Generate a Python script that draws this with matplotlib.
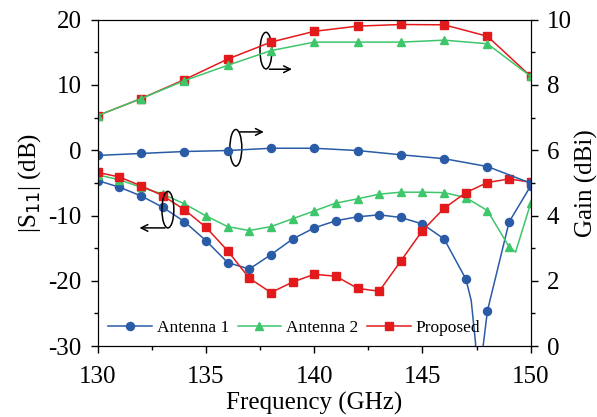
import numpy as np
import matplotlib.pyplot as plt
from matplotlib.patches import Ellipse, FancyArrowPatch
from matplotlib.ticker import MultipleLocator

plt.rcParams['font.family'] = ['Liberation Serif', 'DejaVu Serif']
plt.rcParams['axes.unicode_minus'] = False

# S11 data (left axis), markers every 1 GHz
freq = list(range(130, 151))
s11_ant1 = [-4.65, -5.66, -7.0, -8.73, -10.93, -13.85, -17.2, -18.2, -16.0, -13.6,
            -11.9, -10.8, -10.2, -9.9, -10.3, -11.3, -13.6, -19.7, -24.6, -11.0, -5.46]
s11_ant2 = [-3.77, -4.54, -5.66, -6.73, -8.2, -10.06, -11.7, -12.3, -11.7, -10.5,
            -9.3, -8.1, -7.45, -6.73, -6.43, -6.43, -6.5, -7.25, -9.25, -14.8, -8.1]
s11_prop = [-3.4, -4.1, -5.46, -6.95, -9.1, -11.8, -15.4, -19.6, -21.8, -20.2,
            -19.0, -19.3, -21.15, -21.6, -16.96, -12.3, -8.9, -6.5, -4.95, -4.4, -4.9]
# extra unmarked points read from the sharp nulls
ant1_null_f = [147.25, 147.45, 147.62, 147.8]
ant1_null_v = [-23.0, -29.5, -45.0, -30.0]
ant2_null_f = [149.3]
ant2_null_v = [-15.6]

# Gain data (right axis), markers every 2 GHz
gfreq = list(range(130, 151, 2))
gain_ant1 = [5.84, 5.9, 5.96, 5.99, 6.06, 6.06, 5.99, 5.86, 5.74, 5.5, 4.99]
gain_ant2 = [7.06, 7.58, 8.13, 8.6, 9.05, 9.31, 9.31, 9.31, 9.37, 9.26, 8.26]
gain_prop = [7.06, 7.58, 8.16, 8.79, 9.31, 9.64, 9.80, 9.85, 9.84, 9.49, 8.26]

c1, c2, c3 = '#2a5ba6', '#3ec66b', '#e31a1c'


def merge(f, v, ef, ev):
    pts = sorted(list(zip(f, v)) + list(zip(ef, ev)))
    xs = [p[0] for p in pts]
    ys = [p[1] for p in pts]
    marks = [i for i, x in enumerate(xs) if x in f]
    return xs, ys, marks


fig = plt.figure(figsize=(5.97, 4.17), dpi=100)
ax = fig.add_axes([0.1637, 0.170, 0.7253, 0.783])
ax2 = ax.twinx()

x1, y1, m1 = merge(freq, s11_ant1, ant1_null_f, ant1_null_v)
x2, y2, m2 = merge(freq, s11_ant2, ant2_null_f, ant2_null_v)
kw = dict(lw=1.1, ms=5.8)
ax.plot(x1, y1, '-o', color=c1, markevery=m1, label='Antenna 1', **kw)
ax.plot(x2, y2, '-^', color=c2, markevery=m2, label='Antenna 2', **kw)
ax.plot(freq, s11_prop, '-s', color=c3, label='Proposed', **kw)

ax2.plot(gfreq, gain_ant1, '-o', color=c1, **kw)
ax2.plot(gfreq, gain_prop, '-s', color=c3, **kw)
ax2.plot(gfreq, gain_ant2, '-^', color=c2, **kw)

ax.set_xlim(130, 150)
ax.set_ylim(-30, 20)
ax2.set_ylim(0, 10)
ax.xaxis.set_major_locator(MultipleLocator(5))
ax.xaxis.set_minor_locator(MultipleLocator(2.5))
ax.yaxis.set_major_locator(MultipleLocator(10))
ax.yaxis.set_minor_locator(MultipleLocator(5))
ax2.yaxis.set_major_locator(MultipleLocator(2))
ax2.yaxis.set_minor_locator(MultipleLocator(1))
for a in (ax, ax2):
    a.tick_params(which='both', direction='out', labelsize=18, width=1, pad=6.5)
    a.tick_params(which='major', length=5)
    a.tick_params(which='minor', length=3)
ax.tick_params(axis='x', pad=9)

ax.set_xlabel('Frequency (GHz)', fontsize=18, labelpad=3)
ax.set_ylabel('|S$_{11}$| (dB)', fontsize=18, labelpad=4)
ax2.set_ylabel('Gain (dBi)', fontsize=18, labelpad=2)

# ellipses and arrows
for cx, cy in [(137.77, 15.25), (136.38, 0.37), (133.24, -9.1)]:
    ax.add_patch(Ellipse((cx, cy), 0.55, 5.6, fill=False, ec='black', lw=1.1, zorder=5))
arrows = [((137.8, 12.4), (139.1, 12.4)),
          ((136.43, 2.8), (137.8, 2.8)),
          ((133.24, -11.9), (131.8, -11.9))]
for start, end in arrows:
    ax.add_patch(FancyArrowPatch(start, end, arrowstyle='->', mutation_scale=12,
                                 color='black', lw=1.1, zorder=5))

ax.legend(loc='lower left', ncol=3, frameon=False, fontsize=12.5, handlelength=2.5,
          columnspacing=0.5, handletextpad=0.3, borderaxespad=0.2,
          bbox_to_anchor=(0.0, 0.0))

fig.savefig('out.png', dpi=100)
